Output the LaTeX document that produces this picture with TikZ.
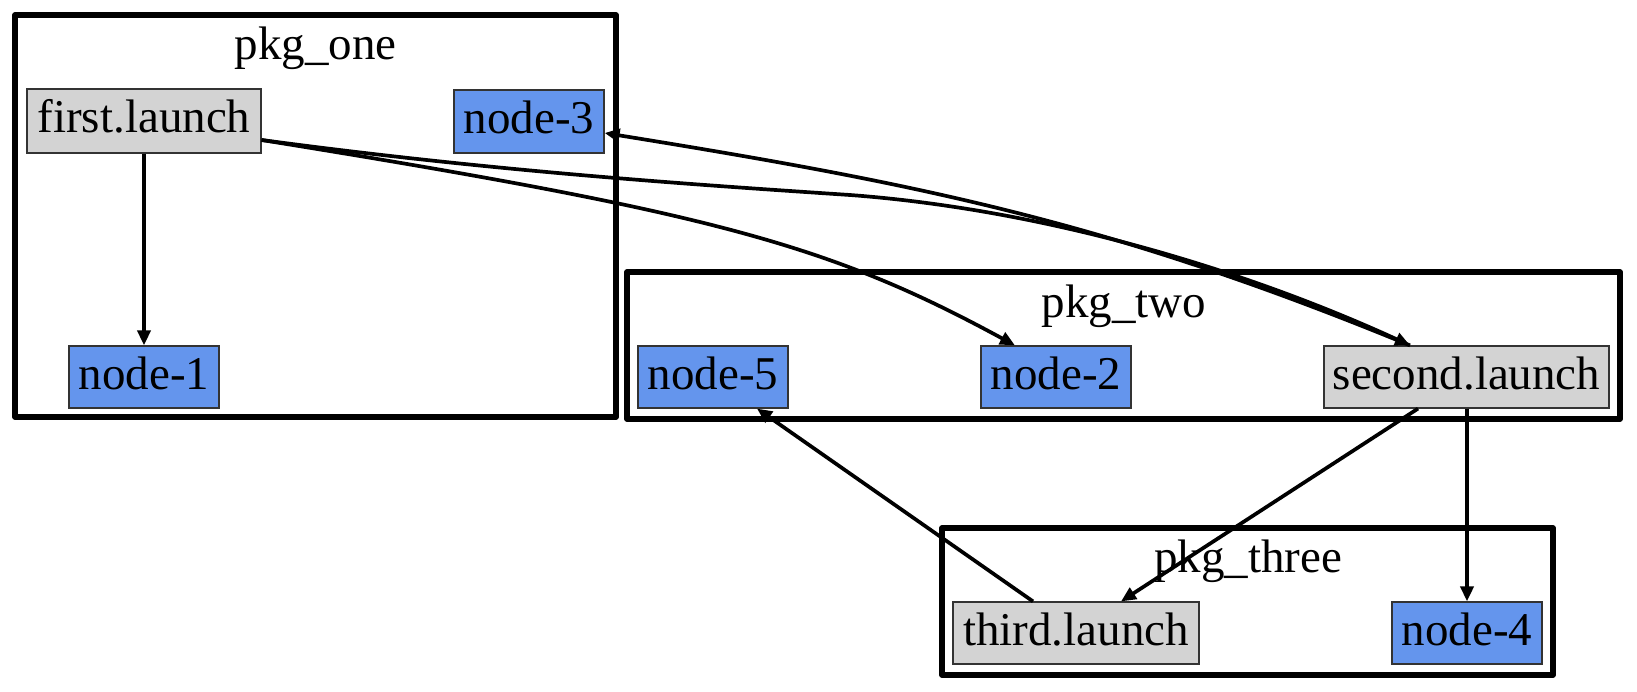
\documentclass[tikz,border=0pt]{standalone}
\usepackage{fontspec}
\setmainfont{Liberation Serif}
\usetikzlibrary{arrows.meta}
\definecolor{nblue}{HTML}{6495ED}
\definecolor{ngray}{HTML}{D3D3D3}
\definecolor{nborder}{HTML}{333333}
\begin{document}
\begin{tikzpicture}[x=1pt,y=-1pt,
  box/.style={draw=nborder,line width=1.2pt,inner sep=0pt,minimum height=63pt,
    text height=32pt,text depth=8pt,align=center,font=\fontsize{47}{56}\selectfont},
  bluebox/.style={box,fill=nblue},
  graybox/.style={box,fill=ngray},
  cluster/.style={draw=black,line width=5.5pt,line join=round},
  clabel/.style={anchor=base,inner sep=0pt,font=\fontsize{47}{56}\selectfont},
  edge/.style={draw=black,line width=3.7pt,-{Triangle[length=15pt,width=13pt]}}]
\useasboundingbox (0,0) rectangle (1637,692);
% clusters
\draw[cluster] (15,15) rectangle (616,417);
\draw[cluster] (627,272) rectangle (1620,419);
\draw[cluster] (942,528) rectangle (1553,675);
\node[clabel] (lone) at (315.5,60) {pkg\_one};
\node[clabel] (ltwo) at (1124,317) {pkg\_two};
\node[clabel] (lthree) at (1248,572) {pkg\_three};
% nodes
\node[graybox,minimum width=234pt,minimum height=64pt] (fl) at (144,121) {first.launch};
\node[bluebox,minimum width=150pt] (n3) at (529,121.5) {node-3};
\node[bluebox,minimum width=150pt,minimum height=62pt] (n1) at (144,377) {node-1};
\node[bluebox,minimum width=150pt,minimum height=62pt] (n5) at (713,377) {node-5};
\node[bluebox,minimum width=150pt,minimum height=62pt] (n2) at (1056,377) {node-2};
\node[graybox,minimum width=285pt,minimum height=62pt] (sl) at (1466.5,377) {second.launch};
\node[graybox,minimum width=246pt,minimum height=62pt] (tl) at (1076,633) {third.launch};
\node[bluebox,minimum width=150pt,minimum height=62pt] (n4) at (1467,633) {node-4};
% edges
\draw[edge] (fl.south) -- (n1.north);
\draw[edge] ([yshift=-19pt]fl.east) .. controls (716,213) and (832,246) .. ([xshift=-41pt]n2.north);
\draw[edge] ([xshift=-56.5pt]sl.north) .. controls (1110,222) and (920,184) .. ([yshift=-11.5pt]n3.east);
\draw[edge] ([yshift=-19pt]fl.east) .. controls (500,172) and (700,185) .. (850,195)
  .. controls (1050,210) and (1250,272) .. ([xshift=-56.5pt]sl.north);
\draw[edge] ([xshift=-48.5pt]sl.south) -- ([xshift=45pt]tl.north);
\draw[edge] ([xshift=0.5pt]sl.south) -- (n4.north);
\draw[edge] ([xshift=-43pt]tl.north) -- ([xshift=44pt]n5.south);
\end{tikzpicture}
\end{document}
